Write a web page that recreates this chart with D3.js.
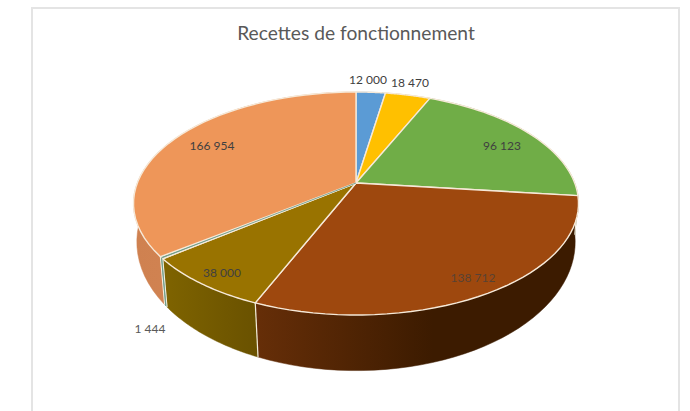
<!DOCTYPE html>
<html><head><meta charset="utf-8">
<script src="https://cdn.jsdelivr.net/npm/d3@7"></script>
<style>html,body{margin:0;padding:0;background:#fff}svg{display:block}</style>
</head><body><svg id="c" width="690" height="411"></svg>
<script>
const title = "Recettes de fonctionnement";
const labels = ["12 000","18 470","96 123","138 712","38 000","1 444","166 954"];
const values = [12000,18470,96123,138712,38000,1444,166954];
const topColors = ["#5B9BD5","#FFC000","#70AD47","#9E480E","#997300","#6F9E8C","#EE9659"];
const sideStart = ["#3F77AB","#C49400","#4F8232","#662E08","#7E6300","#7FAE9C","#CF8150"];
const sideEnd   = ["#3F77AB","#C49400","#4F8232","#3C1B00","#695100","#7FAE9C","#D98B58"];
const sideEndOffset = [1,1,1,0.55,1,1,1];
// label centres (layout only)
const labelX = [368,410,502,473,222,150,212];
const labelY = [79,82,145,277,272,328,145];

const svg = d3.select("#c");
const fontFamily = "Lato, 'Open Sans', sans-serif";
svg.append("path").attr("d","M32 411V8H679V411").attr("fill","none").attr("stroke","#e4e4e4").attr("stroke-width",2);
svg.append("text").attr("x",356).attr("y",40).attr("text-anchor","middle")
  .attr("font-family",fontFamily).attr("font-size",19.2).attr("fill","#595959").text(title);

// perspective projection of the disc
const cx=356, k=0.184, R=218.7, kb=0.17;
const w = v => 1 - k*v;
const wb = v => 1 - kb*v;
const topPt = a => { const u=Math.sin(a), v=-Math.cos(a);
  return [cx+R*u/w(v), 183+107.7*v/w(v)]; };
const botPt = a => { const u=Math.sin(a), v=-Math.cos(a);
  return [cx+216*u/wb(v), 220+125*v/wb(v)]; };

const arcs = d3.pie().sort(null)(values);
const line = d3.line();
const samples = (a0,a1) => d3.range(0,41).map(i=>a0+(a1-a0)*i/40);
const defs = svg.append("defs");

arcs.forEach((d,i)=>{
  const as = samples(d.startAngle,d.endAngle);
  const xs = as.map(a=>botPt(a)[0]);
  defs.append("linearGradient").attr("id","g"+i).attr("gradientUnits","userSpaceOnUse")
    .attr("x1",d3.min(xs)-1).attr("x2",d3.max(xs)+1).attr("y1",0).attr("y2",0)
    .call(g=>{g.append("stop").attr("offset",0).attr("stop-color",sideStart[i]);
              g.append("stop").attr("offset",sideEndOffset[i]).attr("stop-color",sideEnd[i]);});
});

// side walls, then the separators, then the top faces
arcs.forEach((d,i)=>{
  const as = samples(d.startAngle,d.endAngle);
  svg.append("path").attr("d",line(as.map(topPt).concat(as.slice().reverse().map(botPt)))+"Z")
    .attr("fill",`url(#g${i})`).attr("stroke",`url(#g${i})`).attr("stroke-width",0.5);
});
arcs.forEach(d=>{
  const a=d.endAngle;
  if(-Math.cos(a)>0.1) svg.append("path").attr("d",line([topPt(a),botPt(a)]))
    .attr("stroke","#f3ecdc").attr("stroke-width",1.2).attr("fill","none");
});
arcs.forEach((d,i)=>{
  const as = samples(d.startAngle,d.endAngle);
  svg.append("path").attr("d",line([[cx,183]].concat(as.map(topPt)))+"Z")
    .attr("fill",topColors[i]).attr("stroke","#f6e9d8").attr("stroke-width",1.4).attr("stroke-linejoin","round");
});
// the thinnest slice stays visible through its outlines
arcs.filter((d,i)=>i===5).forEach(d=>{
  const mid=(d.startAngle+d.endAngle)/2;
  svg.append("path").attr("d",line([[cx,183],topPt(mid)])).attr("stroke",topColors[5]).attr("stroke-width",0.9).attr("fill","none");
  svg.append("path").attr("d",line([topPt(mid),botPt(mid)])).attr("stroke",topColors[5]).attr("stroke-width",1.1).attr("fill","none");
});

labels.forEach((t,i)=>{
  svg.append("text").attr("x",labelX[i]).attr("y",labelY[i]+4.5).attr("text-anchor","middle")
    .attr("font-family",fontFamily).attr("font-size",12).attr("fill",i===5?"#595959":"#404040").attr("fill-opacity",i===3?0.75:1).text(t);
});
</script></body></html>
